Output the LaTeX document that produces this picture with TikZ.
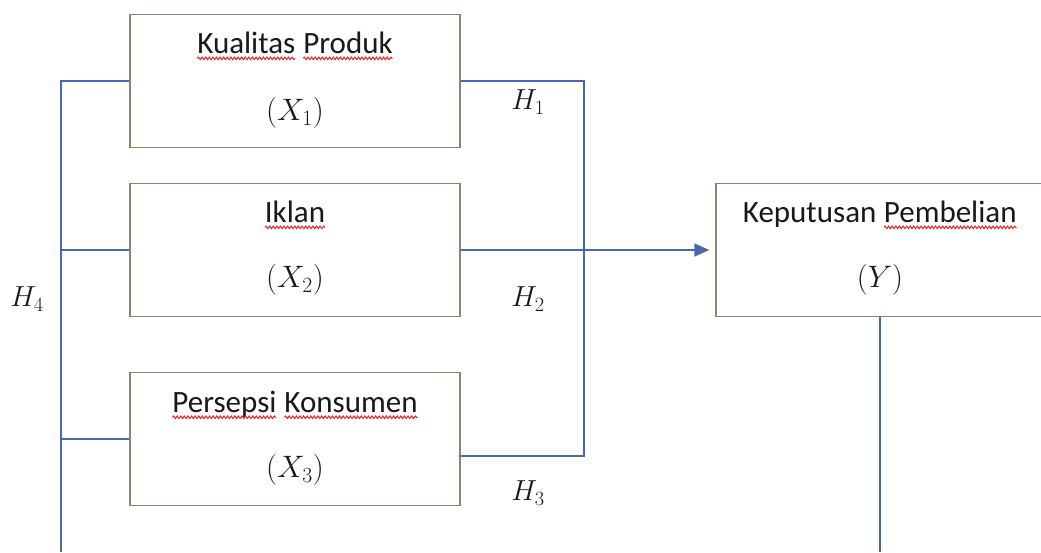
\documentclass[tikz,border=0pt]{standalone}
\usepackage{fix-cm}
\usepackage{fontspec}
\setmainfont{Carlito}
\usetikzlibrary{arrows.meta,decorations.pathmorphing}
\definecolor{linkblue}{RGB}{70,105,175}
\definecolor{boxline}{RGB}{125,140,105}
\definecolor{spellred}{RGB}{225,40,40}
\definecolor{txt}{RGB}{25,25,25}
\newcommand{\wavyword}[1]{\tikz[baseline=(ww.base)]{\node[inner sep=0pt,outer sep=0pt] (ww) {#1};\draw[spellred,line width=1pt,decorate,decoration={snake,amplitude=1.3pt,segment length=3.6pt}] ([yshift=-5pt]ww.base west) -- ([yshift=-5pt]ww.base east);}}
\tikzset{
  varbox/.style={draw=boxline,line width=1.5pt,fill=white,minimum width=330pt,minimum height=133pt,inner sep=0pt},
  boxtext/.style={inner sep=0pt,text=txt,font=\fontsize{31}{37}\selectfont},
  hyp/.style={inner sep=0pt,text=txt,font=\fontsize{29}{34}\selectfont},
  conn/.style={draw=linkblue,line width=1.6pt},
}
\begin{document}
\begin{tikzpicture}[x=1pt,y=-1pt]
\clip (0,0) rectangle (1041,552);
\fill[white] (0,0) rectangle (1041,552);
% boxes
\node[varbox] (b1) at (295,81) {};
\node[varbox] (b2) at (295,250) {};
\node[varbox] (b3) at (295,439) {};
\node[varbox,minimum width=328pt] (Y) at (880,250) {};
% texts
\node[boxtext] (t1) at (295,46) {\wavyword{Kualitas} \wavyword{Produk}};
\node[boxtext] (v1) at (295,113) {$(X_1)$};
\node[boxtext] (t2) at (295,215) {\wavyword{Iklan}};
\node[boxtext] (v2) at (295,280) {$(X_2)$};
\node[boxtext] (t3) at (295,405) {\wavyword{Persepsi} \wavyword{Konsumen}};
\node[boxtext] (v3) at (295,470) {$(X_3)$};
\node[boxtext] (tY) at (880,215) {Keputusan \wavyword{Pembelian}};
\node[boxtext] (vY) at (880,280) {$(Y)$};
% hypothesis labels
\node[hyp] (h1) at (528,102) {$H_1$};
\node[hyp] (h2) at (528,299) {$H_2$};
\node[hyp] (h3) at (528,493) {$H_3$};
\node[hyp] (h4) at (27,299) {$H_4$};
% connectors
\coordinate (rv) at (584,0);
\coordinate (lb) at (61,552);
\coordinate (b3r) at ([yshift=-17pt]b3.east);
\draw[conn] (b1.east) -| (rv |- b3r) -- (b3r);
\draw[conn,-{Triangle[length=15pt,width=13pt]}] (b2.east) -- ([xshift=-6pt]Y.west);
\draw[conn] (b1.west) -| (lb);
\draw[conn] (b2.west) -- (b2.west -| lb);
\draw[conn] (b3.west) -- (b3.west -| lb);
\draw[conn] (Y.south) -- (Y.south |- lb);
\end{tikzpicture}
\end{document}
